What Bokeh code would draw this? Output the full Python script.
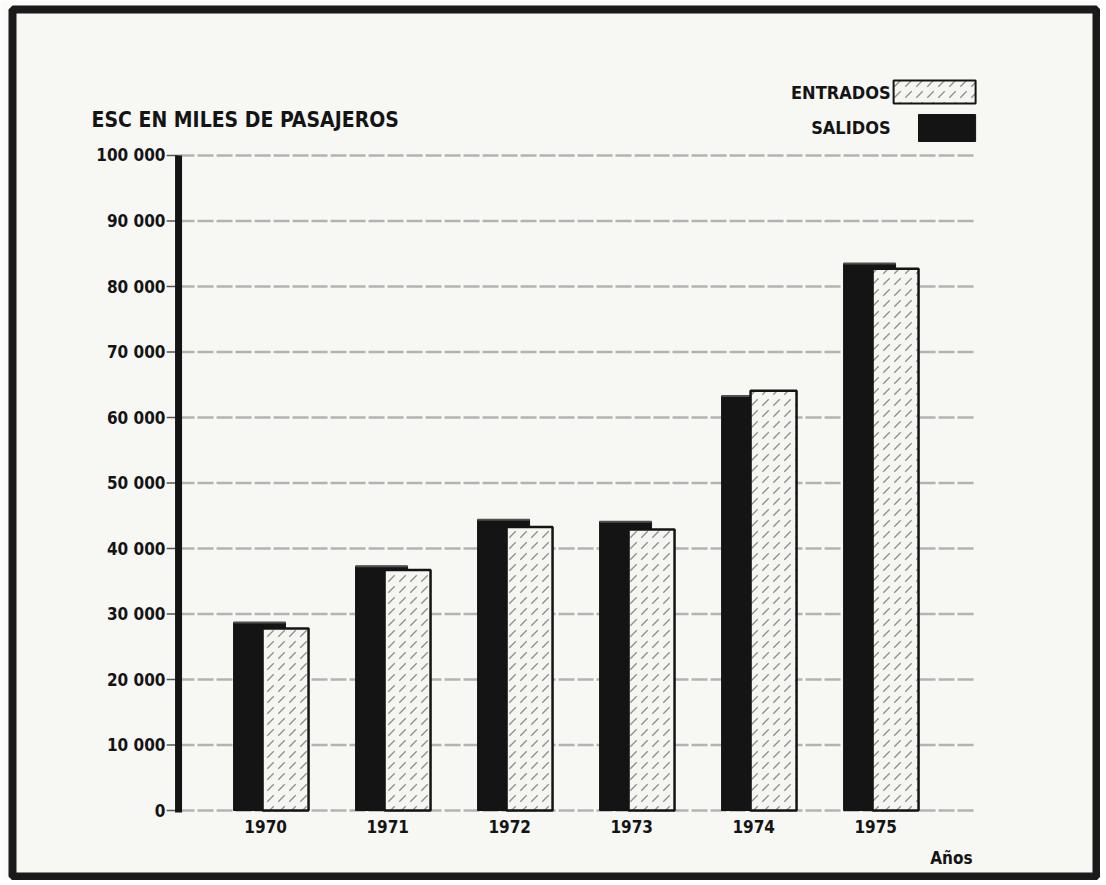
from bokeh.plotting import figure
from bokeh.models import Range1d
from bokeh.core.properties import value
from bokeh.embed import file_html
from bokeh.resources import INLINE

# ---- data ----
years = ["1970", "1971", "1972", "1973", "1974", "1975"]
salidos = [28700, 37300, 44400, 44100, 63300, 83500]
entrados = [27800, 36700, 43300, 42900, 64100, 82700]
tick_values = [0, 10000, 20000, 30000, 40000, 50000, 60000, 70000, 80000, 90000, 100000]
tick_labels = ["0", "10 000", "20 000", "30 000", "40 000", "50 000",
               "60 000", "70 000", "80 000", "90 000", "100 000"]
title_text = "ESC EN MILES DE PASAJEROS"
x_title = "Años"
legend_entr = "ENTRADOS"
legend_sal = "SALIDOS"

# ---- layout constants ----
W, H = 1100, 880
FONT = "DejaVu Sans Condensed"
INK = "#141414"
BG = "#f7f7f4"
AXIS_X = -0.754
GRID_END = 5.779
LABEL_X = -0.861

xs = list(range(len(years)))

p = figure(width=W, height=H,
           x_range=Range1d(-2.115, 6.770), y_range=Range1d(-10076, 122290),
           output_backend="svg", toolbar_location=None,
           min_border_left=12, min_border_top=9, min_border_right=4, min_border_bottom=4,
           x_axis_location=None, y_axis_location=None,
           background_fill_color=BG, border_fill_color="#fbfbfa",
           outline_line_color="#1a1a1a", outline_line_width=8)
p.grid.visible = False

HATCH = dict(hatch_pattern="right_diagonal_dash", hatch_color="#2a2a2a",
             hatch_alpha=0.5, hatch_scale=11, hatch_weight=1.3)

# gridlines
n = len(tick_values)
p.segment(x0=[AXIS_X] * n, x1=[GRID_END] * n, y0=tick_values, y1=tick_values,
          line_color="#b3b3b3", line_width=2.5, line_dash="16 3")
# small ticks
p.segment(x0=[LABEL_X + 0.01] * n, x1=[AXIS_X] * n, y0=tick_values, y1=tick_values,
          line_color="#555555", line_width=1.5)

# bars: SALIDOS (black, behind), ENTRADOS (stippled, in front)
p.vbar(x=[x - 0.09 for x in xs], width=0.426, top=salidos, bottom=0,
       fill_color=INK, line_color=INK, line_width=1)
p.segment(x0=[x - 0.09 - 0.213 for x in xs], x1=[x - 0.09 + 0.213 for x in xs],
          y0=salidos, y1=salidos, line_color="#505050", line_width=2)
p.vbar(x=[x + 0.123 for x in xs], width=0.377, top=entrados, bottom=0,
       fill_color="#f5f5f1", line_color=INK, line_width=2.5, **HATCH)

# y axis line
p.segment(x0=[AXIS_X], x1=[AXIS_X], y0=[tick_values[0] - 300], y1=[tick_values[-1]],
          line_color=INK, line_width=7)

# tick labels
p.text(x=[LABEL_X] * n, y=tick_values, text=tick_labels,
       text_font=value(FONT), text_font_size="17px", text_font_style="bold",
       text_align="right", text_baseline="middle", text_color=INK)

# year labels
p.text(x=[x - 0.04 for x in xs], y=[-2440] * len(xs), text=years,
       text_font=value(FONT), text_font_size="17px", text_font_style="bold",
       text_align="center", text_baseline="middle", text_color=INK)

# x title
p.text(x=[5.754], y=[-7176], text=[x_title],
       text_font=value(FONT), text_font_size="17px", text_font_style="bold",
       text_align="right", text_baseline="middle", text_color=INK)

# chart title
p.text(x=[-1.467], y=[105344], text=[title_text],
       text_font=value(FONT), text_font_size="21px", text_font_style="bold",
       text_align="left", text_baseline="middle", text_color=INK)

# legend
p.text(x=[5.082, 5.082], y=[109618, 104275], text=[legend_entr, legend_sal],
       text_font=value(FONT), text_font_size="18px", text_font_style="bold",
       text_align="right", text_baseline="middle", text_color=INK)
p.quad(left=[5.107], right=[5.779], bottom=[107939], top=[111450],
       fill_color="#f5f5f1", line_color=INK, line_width=2, **HATCH)
p.quad(left=[5.311], right=[5.779], bottom=[102137], top=[106260],
       fill_color=INK, line_color=INK)

open("out.html", "w").write(file_html(p, INLINE))
